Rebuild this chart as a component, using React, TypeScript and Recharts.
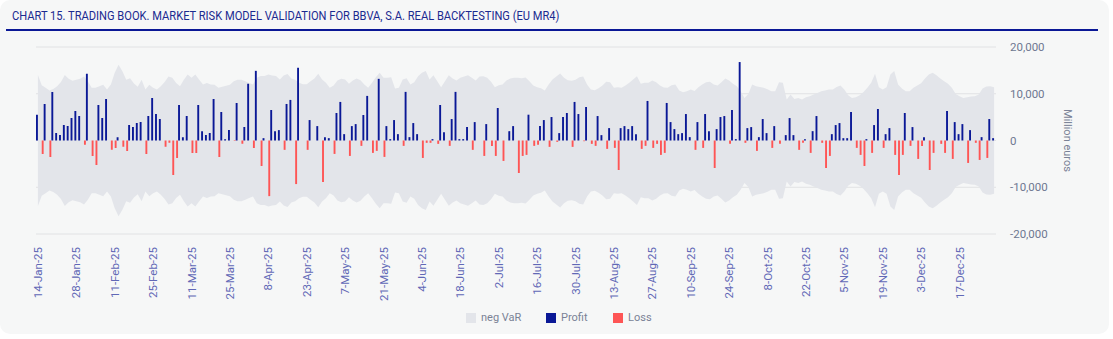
import React from 'react';
import {
  ComposedChart,
  Bar,
  Area,
  XAxis,
  YAxis,
  CartesianGrid,
  Legend,
  Label,
} from 'recharts';

// one label every 10 trading days
const tickLabels = [
  '14-Jan-25', '28-Jan-25', '11-Feb-25', '25-Feb-25', '11-Mar-25', '25-Mar-25', '8-Apr-25',
  '23-Apr-25', '7-May-25', '21-May-25', '4-Jun-25', '18-Jun-25', '2-Jul-25', '16-Jul-25',
  '30-Jul-25', '13-Aug-25', '27-Aug-25', '10-Sep-25', '24-Sep-25', '8-Oct-25', '22-Oct-25',
  '5-Nov-25', '19-Nov-25', '3-Dec-25', '17-Dec-25',
];

// daily real P&L, million euros (10 trading days per row)
const pnl = [
  5520, -2870, 7815, -3510, 10400, 1580, 1150, 3300, 3080, 4800,
  6310, 5230, -930, 14270, -3300, -5230, 7600, 4800, 8890, -2000,
  -1580, 720, -1360, -2220, 3300, 2870, 3730, 3940, -2870, 5230,
  9100, 5660, 4590, -1360, -500, -7380, -3730, 7600, 720, 5230,
  -2650, -2650, 7600, 2000, 1150, 1580, 8890, -3510, 6100, 290,
  2220, -100, 8030, -720, 2870, 12120, -1580, 14900, -5450, 500,
  -11900, 6520, 2000, 2220, -2000, 7815, 8680, -9320, 15560, 0,
  -2000, 4370, 0, 3080, -8890, 720, 500, -2870, 5880, 8250,
  1360, -3300, 3080, 3510, -1150, 5450, 9540, -2650, -2220, 13190,
  -3510, 3080, 290, 4370, 1360, -1150, 10400, 720, 3730, 1360,
  -3730, -500, -500, 290, -720, 7600, 1790, -1150, 4590, 10400,
  290, 290, 2870, -2000, 3940, 0, -3300, 3510, -1150, -3300,
  6950, -4370, 0, 2000, 3080, -6950, -3300, -3080, 5520, -1150,
  -930, 3080, 4370, -1360, 5020, -290, 1580, 5020, 5880, -1360,
  8250, 5660, -150, 7170, -720, -1150, 5230, 1150, -1790, 2650,
  -1580, -6310, 2650, 3080, 2440, 3080, 1360, -1790, -1150, 8460,
  -1580, -720, -3080, -2650, 8030, 3940, 2440, 1360, 1580, 5660,
  720, -2000, 3940, -1580, 5660, 2000, -5880, 2440, 5020, 5230,
  -720, 6520, 290, 16780, -500, 2650, 2870, -2220, 720, 4590,
  1580, -1580, 3080, -720, 0, 1150, 4800, 1150, -2000, -500,
  290, -2650, 2000, 5230, -500, -5880, -3300, 1360, 3300, 3730,
  500, 500, 6100, -1580, -3080, -5450, 290, -2650, 3300, 6740,
  -1580, 1360, 2650, -3080, -7380, -3080, 5880, -1150, 2870, -3940,
  -1150, 720, -6310, -2650, 0, -720, -2650, 6310, -3940, 3940,
  1360, 3510, -4800, 2220, -500, -4160, 720, -3730, 4590, 500,
];

// VaR for each day, million euros (band drawn from -VaR to +VaR)
const varLevel = [
  14000, 11800, 11300, 10700, 11000, 11600, 12500, 14000, 13200, 12800,
  13000, 13200, 13700, 12700, 11300, 11300, 11600, 11900, 10900, 12000,
  14500, 16200, 14800, 13000, 13300, 12200, 11500, 13000, 10900, 11900,
  11300, 10900, 11600, 12500, 13700, 13400, 12300, 11600, 13000, 14100,
  13400, 14100, 13000, 12000, 12300, 12000, 11900, 11300, 11500, 11700,
  11900, 12700, 13000, 13000, 12700, 12300, 12000, 13400, 13800, 13800,
  14100, 13900, 13800, 13050, 13900, 14200, 13260, 12980, 12330, 12050,
  12050, 12690, 13260, 14270, 13050, 12330, 11260, 11760, 12830, 13190,
  13050, 12120, 12830, 13260, 12900, 11970, 11260, 12330, 13550, 14480,
  13410, 13410, 13550, 11110, 11260, 13050, 13340, 11970, 12480, 13770,
  14480, 14840, 13050, 13980, 12690, 11400, 12690, 13980, 13260, 12830,
  13410, 13700, 13980, 13410, 12830, 13700, 13770, 13410, 12550, 11400,
  11830, 11970, 12830, 13260, 13410, 13410, 13340, 13480, 12690, 11760,
  11400, 11190, 10680, 11970, 13050, 13700, 14340, 13410, 12900, 12760,
  12980, 13550, 13700, 11970, 10900, 10760, 11190, 11760, 12550, 12480,
  11260, 11400, 11260, 11760, 12330, 13050, 13770, 12120, 12330, 12330,
  12830, 12480, 11760, 11330, 11260, 11830, 11970, 10680, 10320, 10540,
  10900, 10610, 11400, 11970, 12480, 12550, 11970, 11760, 12480, 13260,
  12830, 12120, 11620, 10540, 9100, 9970, 12000, 11620, 11470, 11260,
  10970, 10540, 10540, 12480, 12330, 8750, 9820, 8890, 9100, 8750,
  9250, 9460, 9820, 10180, 10540, 10680, 10900, 10900, 11470, 11760,
  10900, 9680, 9100, 9250, 9680, 10400, 11260, 12330, 14270, 11400,
  10900, 11400, 14120, 14840, 11970, 11110, 10540, 10540, 11260, 11760,
  12260, 13260, 14120, 14480, 13980, 13260, 12690, 12120, 11260, 9970,
  9460, 9100, 9250, 9390, 9460, 9820, 11110, 11540, 11620, 11400,
];

const legendItems = [
  { name: 'neg VaR', color: '#e3e5ea', width: 80 },
  { name: 'Profit', color: '#0a1896', width: 67 },
  { name: 'Loss', color: '#fe5555', width: 50 },
];

const FONT = 'Roboto, "Open Sans", sans-serif';
const NAVY = '#0a1896';

const data = pnl.map((v, i) => ({
  idx: i,
  profit: v > 0 ? v : null,
  loss: v < 0 ? v : null,
  band: [-varLevel[i], varLevel[i]],
}));

const DateTick = ({ x, y, payload }: any) => (
  <text
    x={x}
    y={y}
    transform={`rotate(-90 ${x} ${y})`}
    textAnchor="end"
    dominantBaseline="central"
    fontSize={11.5}
    fontFamily={FONT}
    fill="#6168b6"
  >
    {tickLabels[payload.value / 10]}
  </text>
);

const renderLegend = () => (
  <div style={{ display: 'flex', paddingLeft: 466, fontFamily: FONT, fontSize: 11, color: '#7a8296' }}>
    {legendItems.map((it) => (
      <div key={it.name} style={{ width: it.width, display: 'flex', alignItems: 'center' }}>
        <span style={{ width: 10, height: 10, background: it.color, marginRight: 5, display: 'inline-block' }} />
        <span>{it.name}</span>
      </div>
    ))}
  </div>
);

export default function App() {
  return (
    <div style={{ position: 'absolute', left: 0, top: 0, width: 1113, height: 339, background: '#fff' }}>
      <div
        style={{
          position: 'absolute', left: 0, top: 0, width: 1109, height: 334,
          background: '#f6f7f7', borderRadius: 10, overflow: 'hidden',
        }}
      >
        <div
          style={{
            position: 'absolute', left: 12, top: 8, fontFamily: FONT, fontSize: 13,
            color: '#1b2a90', whiteSpace: 'nowrap',
            transform: 'scaleX(0.855)', transformOrigin: 'left center',
          }}
        >
          CHART 15. TRADING BOOK. MARKET RISK MODEL VALIDATION FOR BBVA, S.A. REAL BACKTESTING (EU MR4)
        </div>
        <div style={{ position: 'absolute', left: 6, top: 29, width: 1092, height: 1.5, background: NAVY }} />
        <ComposedChart
          width={1109}
          height={334}
          data={data}
          margin={{ top: 47, right: -31, left: 36, bottom: 30 }}
          barGap={0}
          style={{ position: 'absolute', left: 0, top: 0 }}
        >
          <CartesianGrid vertical={false} stroke="#e1e2e4" />
          <XAxis
            dataKey="idx"
            type="category"
            interval={9}
            axisLine={false}
            tickLine={false}
            tickSize={0}
            tickMargin={13}
            height={70}
            tick={<DateTick />}
          />
          <YAxis
            orientation="right"
            domain={[-20000, 20000]}
            ticks={[-20000, -10000, 0, 10000, 20000]}
            tickFormatter={(v: number) => v.toLocaleString('en-US')}
            axisLine={false}
            tickLine={false}
            tickSize={0}
            tickMargin={14}
            width={144}
            tick={{ fontSize: 11.5, fill: '#6e7891', fontFamily: FONT }}
          >
            <Label
              value="Million euros"
              angle={90}
              position="center"
              style={{ fontSize: 11, fill: '#7a8296', fontFamily: FONT }}
            />
          </YAxis>
          <Area
            dataKey="band"
            name="neg VaR"
            type="linear"
            stroke="none"
            fill="#e3e5ea"
            fillOpacity={1}
            isAnimationActive={false}
          />
          <Bar dataKey="profit" name="Profit" fill={NAVY} barSize={1.9} isAnimationActive={false} />
          <Bar dataKey="loss" name="Loss" fill="#fe5555" barSize={1.9} isAnimationActive={false} />
          <Legend
            layout="horizontal"
            verticalAlign="middle"
            align="center"
            content={renderLegend}
            wrapperStyle={{ top: 311, left: 0, width: 1109 }}
          />
        </ComposedChart>
      </div>
    </div>
  );
}
